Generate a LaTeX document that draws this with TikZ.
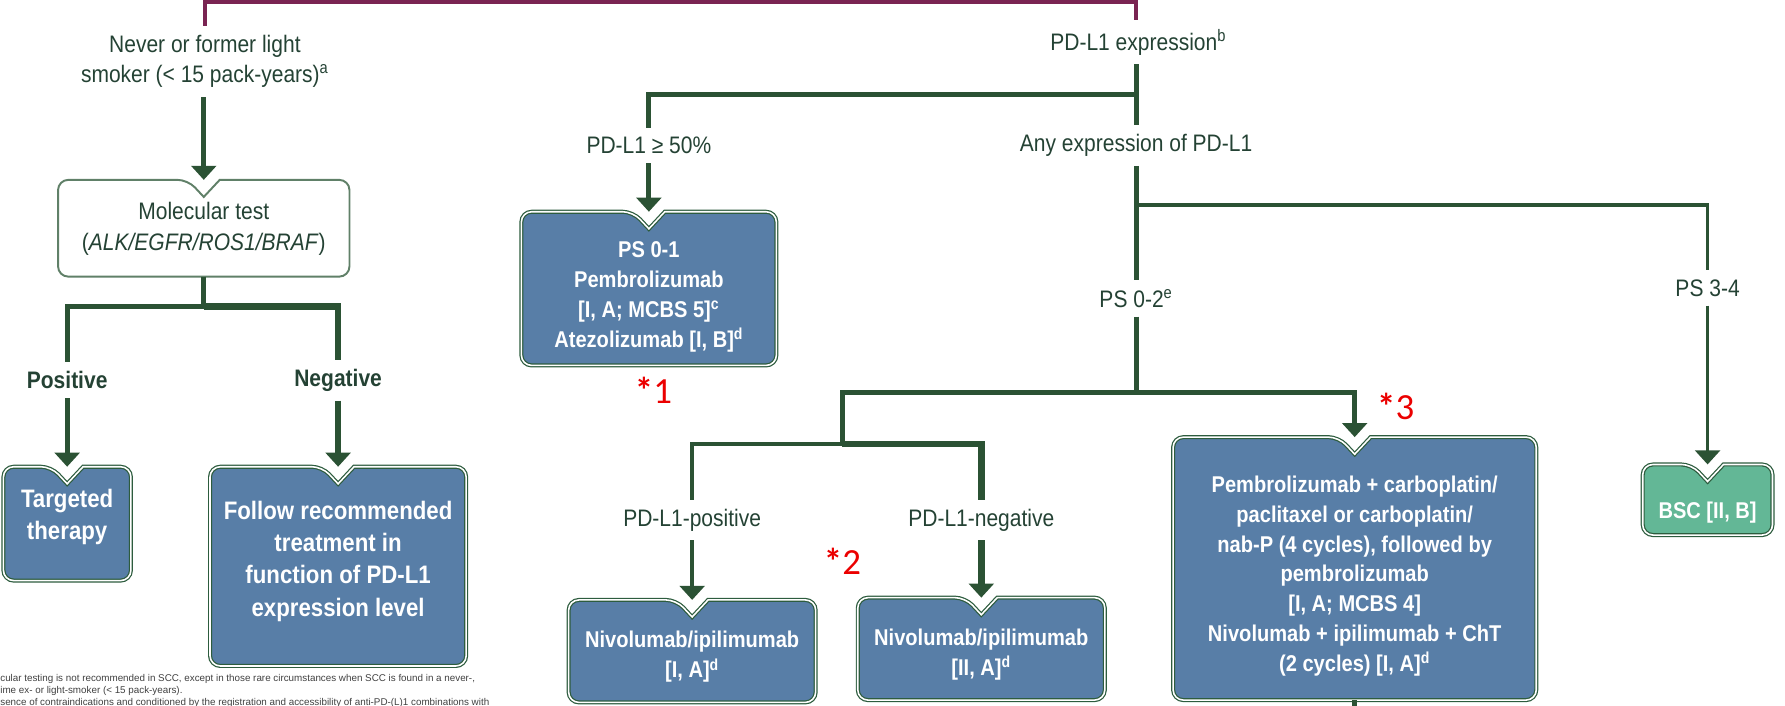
\documentclass[tikz,border=0pt]{standalone}
\usepackage{fontspec}
\setmainfont{Liberation Sans}[FakeStretch=0.88]
\newfontfamily\notefont{Liberation Sans}
\newfontfamily\markfont{Carlito}
\usetikzlibrary{arrows.meta}

\definecolor{stemgreen}{RGB}{43,82,52}
\definecolor{labeltext}{RGB}{36,66,52}
\definecolor{boxblue}{RGB}{88,126,167}
\definecolor{boxedge}{RGB}{45,92,62}
\definecolor{bscgreen}{RGB}{99,183,150}
\definecolor{testedge}{RGB}{96,128,104}
\definecolor{topmaroon}{RGB}{122,36,82}
\definecolor{markred}{RGB}{235,0,0}

\newdimen\pu \pu=0.0228cm
% outline with the notch the arrow points into
\newcommand{\notchframe}[2]{%
  \draw[#2] ([xshift=-14\pu]#1.north) [sharp corners] -- ([yshift=-15\pu]#1.north)
    -- ([xshift=14\pu]#1.north) [rounded corners=9\pu] -- (#1.north east)
    -- (#1.south east) -- (#1.south west) -- (#1.north west) -- cycle;}

\begin{document}
\begin{tikzpicture}[x=0.0228cm, y=-0.0228cm,
  lbl/.style={text=labeltext, align=center, font=\fontsize{13.6}{17.5}\selectfont, inner sep=5pt},
  boldlbl/.style={lbl, font=\fontsize{13.6}{17.5}\selectfont\bfseries},
  boxtext/.style={text=white, align=center, font=\fontsize{13}{17}\selectfont\bfseries},
  bigtext/.style={boxtext, font=\fontsize{14.4}{18.5}\selectfont\bfseries},
  boxspot/.style={inner sep=0pt, outer sep=0pt},
  blueframe/.style={fill=boxblue, draw=boxedge, line width=0.7pt, double=white, double distance=0.9pt},
  bscframe/.style={blueframe, fill=bscgreen},
  testframe/.style={fill=white, draw=testedge, line width=1.1pt},
  stem/.style={draw=stemgreen, line width=2.8pt},
  thinstem/.style={stem, line width=2pt},
  heavystem/.style={stem, line width=3.8pt},
  flow/.style={-{Triangle[width=14pt,length=8pt]}},
  topline/.style={draw=topmaroon, line width=2.4pt},
  redmark/.style={text=markred, font=\markfont\fontsize{21}{23}\selectfont},
  notes/.style={text=black!75, align=left, font=\notefont\fontsize{5.6}{7}\selectfont, inner sep=0pt}]
\useasboundingbox (0,0) rectangle (1568,620);

% branch labels
\node[lbl] (never) at (180,54) {Never or former light\\smoker (< 15 pack-years)\textsuperscript{a}};
\node[lbl] (pdexp) at (1000,37) {PD-L1 expression\textsuperscript{b}};
\node[lbl] (pdhigh) at (570,128) {PD-L1 ≥ 50\%};
\node[lbl] (anyexp) at (998,128) {Any expression of PD-L1};
\node[lbl] (pszero) at (998,262) {PS 0-2\textsuperscript{e}};
\node[lbl] (psthree) at (1500,253) {PS 3-4};
\node[boldlbl] (positive) at (59,334) {Positive};
\node[boldlbl] (negative) at (297,334) {Negative};
\node[lbl] (pdpos) at (608,457) {PD-L1-positive};
\node[lbl] (pdneg) at (862,457) {PD-L1-negative};

% boxes
\node[boxspot, minimum width=256\pu, minimum height=85\pu] (moltest) at (179,200.5) {};
\notchframe{moltest}{testframe}
\node[lbl, inner sep=0pt] (moltesttext) at (179,201) {Molecular test\\(\textit{ALK/EGFR/ROS1/BRAF})};

\node[boxspot, minimum width=112\pu, minimum height=100\pu] (target) at (59,460) {};
\notchframe{target}{blueframe}
\node[bigtext] (targettext) at (59,454) {Targeted\\therapy};

\node[boxspot, minimum width=225\pu, minimum height=175\pu] (follow) at (297,497.5) {};
\notchframe{follow}{blueframe}
\node[bigtext] (followtext) at (297,493) {Follow recommended\\treatment in\\function of PD-L1\\expression level};

\node[boxspot, minimum width=224\pu, minimum height=135\pu] (psone) at (570,253.5) {};
\notchframe{psone}{blueframe}
\node[boxtext] (psonetext) at (570,261) {PS 0-1\\Pembrolizumab\\{}[I, A; MCBS 5]\textsuperscript{c}\\Atezolizumab [I, B]\textsuperscript{d}};

\node[boxspot, minimum width=217\pu, minimum height=90\pu] (nivopos) at (608,572) {};
\notchframe{nivopos}{blueframe}
\node[boxtext] (nivopostext) at (608,577) {Nivolumab/ipilimumab\\{}[I, A]\textsuperscript{d}};

\node[boxspot, minimum width=217\pu, minimum height=90\pu] (nivoneg) at (862,570) {};
\notchframe{nivoneg}{blueframe}
\node[boxtext] (nivonegtext) at (862,575) {Nivolumab/ipilimumab\\{}[II, A]\textsuperscript{d}};

\node[boxspot, minimum width=319\pu, minimum height=231\pu] (combo) at (1190,499.5) {};
\notchframe{combo}{blueframe}
\node[boxtext] (combotext) at (1190,506) {Pembrolizumab + carboplatin/\\paclitaxel or carboplatin/\\nab-P (4 cycles), followed by\\pembrolizumab\\{}[I, A; MCBS 4]\\Nivolumab + ipilimumab + ChT\\(2 cycles) [I, A]\textsuperscript{d}};

\node[boxspot, minimum width=114\pu, minimum height=62\pu] (bsc) at (1500,439) {};
\notchframe{bsc}{bscframe}
\node[boxtext] (bsctext) at (1500,450) {BSC [II, B]};

% red marks
\node[redmark] (markone) at (574,343) {\textbf{*}1};
\node[redmark] (marktwo) at (740,493) {\textbf{*}2};
\node[redmark] (markthree) at (1226,357) {\textbf{*}3};

% footnotes
\node[notes, anchor=north west] (footnotes) at (0,592) {cular testing is not recommended in SCC, except in those rare circumstances when SCC is found in a never-,\\ime ex- or light-smoker (< 15 pack-years).\\sence of contraindications and conditioned by the registration and accessibility of anti-PD-(L)1 combinations with};

% connectors
\coordinate (topbar) at (998,1.5);
\draw[topline] (never.north) |- (topbar) -- (pdexp.north -| topbar);

\draw[stem, flow] (moltest.north |- never.south) -- (moltest.north);
\coordinate (jmol) at (179,269);
\draw[stem] (moltest.south) -- (jmol);
\draw[stem] (jmol) -| (positive.north);
\draw[heavystem] (jmol) -| (negative.north);
\draw[stem, flow] (positive.south) -- (target.north);
\draw[heavystem, flow] (negative.south) -- (follow.north);

\coordinate (jpd) at (998,83);
\draw[stem] (pdexp.south -| jpd) -- (anyexp.north);
\draw[stem] (jpd) -| (pdhigh.north);
\draw[stem, flow] (pdhigh.south) -- (psone.north);

\coordinate (jany) at (998,180);
\draw[stem] (anyexp.south) -- (pszero.north);
\draw[thinstem] (jany) -| (psthree.north);
\draw[thinstem, flow] (psthree.south) -- (bsc.north);

\coordinate (jps) at (998,345);
\draw[stem] (pszero.south) -- (jps);
\draw[stem, flow] (jps) -| (combo.north);
\coordinate (jniv) at (740,390);
\draw[stem] (jps) -| (jniv);
\draw[thinstem] (jniv) -| (pdpos.north);
\draw[heavystem] (jniv) -| (pdneg.north);
\draw[thinstem, flow] (pdpos.south) -- (nivopos.north);
\draw[heavystem, flow] (pdneg.south) -- (nivoneg.north);
\coordinate (onward) at (1190,625);
\draw[stem] (combo.south) -- (onward);

\end{tikzpicture}
\end{document}
